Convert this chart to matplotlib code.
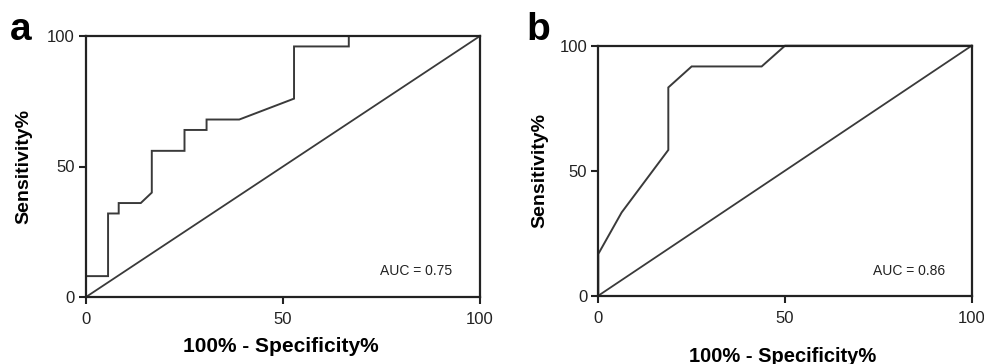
import matplotlib
matplotlib.use("Agg")
import matplotlib.pyplot as plt

plt.rcParams.update({
    "font.family": ["Liberation Sans", "DejaVu Sans"],
    "axes.linewidth": 1.6,
})

# ROC curve points (100% - specificity, sensitivity)
A_FPR = [0, 0, 5.6, 5.6, 8.3, 8.3, 13.9, 16.7, 16.7, 25.0, 25.0, 30.6, 30.6,
         38.9, 52.8, 52.8, 66.7, 66.7, 100]
A_TPR = [0, 8, 8, 32, 32, 36, 36, 40, 56, 56, 64, 64, 68,
         68, 76, 96, 96, 100, 100]
A_AUC = "AUC = 0.75"

B_FPR = [0, 0, 6.25, 18.75, 18.75, 25.0, 43.75, 50.0, 100]
B_TPR = [0, 16.7, 33.3, 58.3, 83.3, 91.7, 91.7, 100, 100]
B_AUC = "AUC = 0.86"

TICKS = [0, 50, 100]
LINE = "#3a3a3a"

fig = plt.figure(figsize=(9.84, 3.64), dpi=100)
ax_a = fig.add_axes([86 / 984, 67 / 364, 394 / 984, 261 / 364])
ax_b = fig.add_axes([598.3 / 984, 68.3 / 364, 373.4 / 984, 250 / 364])

panels = [
    (ax_a, A_FPR, A_TPR, A_AUC, "a", (10, 40), (281, 347), 15, (-0.137, 0.5)),
    (ax_b, B_FPR, B_TPR, B_AUC, "b", (526, 40), (783, 356), 14.5, (-0.135, 0.5)),
]

for ax, fpr, tpr, auc, letter, lpos, xlpos, xlsize, ylcoords in panels:
    ax.plot(fpr, tpr, color=LINE, lw=1.4, solid_joinstyle="miter", clip_on=False)
    ax.plot([0, 100], [0, 100], color=LINE, lw=1.3, clip_on=False)
    ax.set_xlim(0, 100)
    ax.set_ylim(0, 100)
    ax.set_xticks(TICKS)
    ax.set_yticks(TICKS)
    ax.tick_params(direction="out", length=5, width=1.5, labelsize=12,
                   colors="#222222")
    ax.tick_params(axis="x", pad=6)
    ax.tick_params(axis="y", pad=3)
    for s in ax.spines.values():
        s.set_color("#222222")
    ax.text(0.93, 0.10, auc, transform=ax.transAxes, ha="right", va="center",
            fontsize=10, color="#222222")
    ax.set_ylabel("Sensitivity%", fontsize=14, fontweight="bold")
    ax.yaxis.set_label_coords(*ylcoords)
    fig.text(xlpos[0] / 984, 1 - xlpos[1] / 364, "100% - Specificity%",
             ha="center", va="center", fontsize=xlsize, fontweight="bold")
    fig.text(lpos[0] / 984, 1 - lpos[1] / 364, letter, ha="left",
             va="baseline", fontsize=28, fontweight="bold")

fig.savefig("out.png", dpi=100)
